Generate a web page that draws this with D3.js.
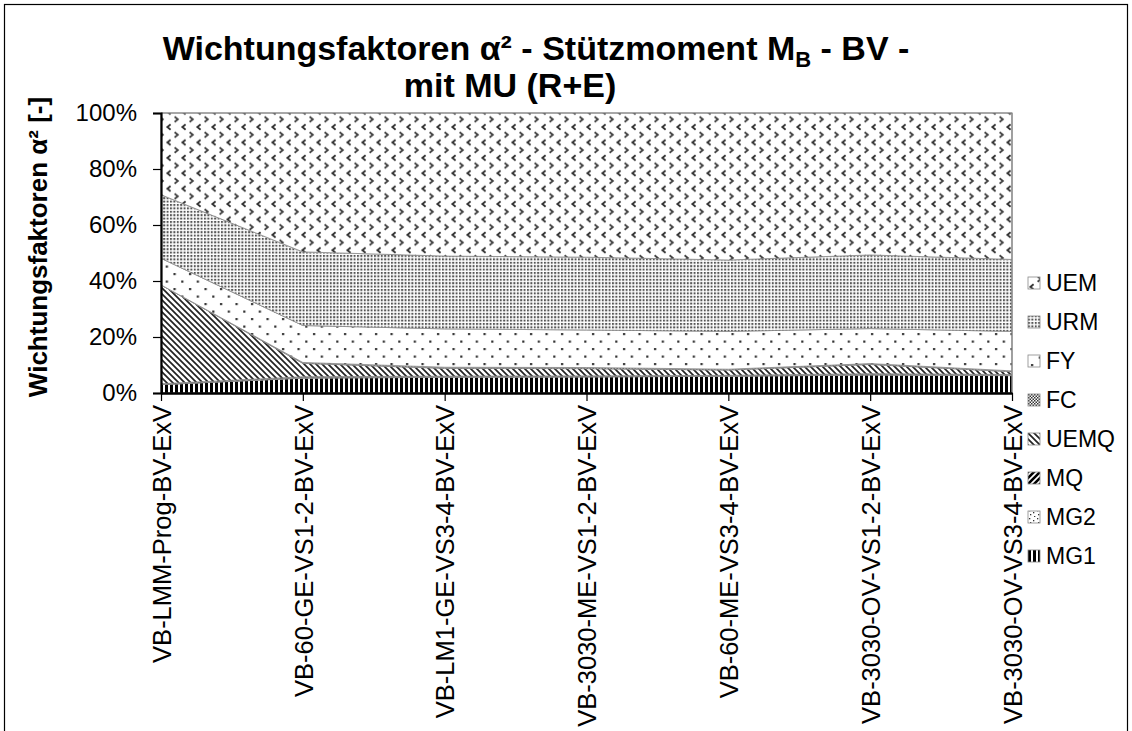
<!DOCTYPE html>
<html>
<head>
<meta charset="utf-8">
<script src="https://cdn.jsdelivr.net/npm/d3@7"></script>
<style>
  body { margin: 0; background: #fff; }
  text { font-family: Arial, "Liberation Sans", sans-serif; }
</style>
</head>
<body>
<svg id="chart" width="1132" height="731"></svg>
<script>
// categories along the x axis
const categories = [
    "VB-LMM-Prog-BV-ExV",
    "VB-60-GE-VS1-2-BV-ExV",
    "VB-LM1-GE-VS3-4-BV-ExV",
    "VB-3030-ME-VS1-2-BV-ExV",
    "VB-60-ME-VS3-4-BV-ExV",
    "VB-3030-OV-VS1-2-BV-ExV",
    "VB-3030-OV-VS3-4-BV-ExV"
];
// share of each factor in percent (stacked from bottom to top)
const MG1  = [3.0, 5.3, 5.6, 5.7, 6.0, 6.4, 6.2];
const MG2  = [0.0, 0.2, 0.2, 0.2, 0.1, 0.2, 0.2];
const MQ   = [0.3, 0.3, 0.2, 0.2, 0.2, 0.3, 0.2];
const UEMQ = [35.3, 4.8, 2.8, 2.6, 1.9, 3.3, 1.0];
const FC   = [0.0, 0.3, 0.4, 0.4, 0.3, 0.3, 0.3];
const FY   = [9.5, 13.2, 13.7, 13.4, 13.5, 12.5, 14.1];
const URM  = [22.7, 26.3, 26.0, 26.0, 25.5, 26.3, 25.7];
const UEM  = [29.2, 49.6, 51.1, 51.5, 52.5, 50.7, 52.3];

const seriesNames = ["MG1", "MG2", "MQ", "UEMQ", "FC", "FY", "URM", "UEM"];
const seriesValues = { MG1, MG2, MQ, UEMQ, FC, FY, URM, UEM };
const yTicks = [0, 0.2, 0.4, 0.6, 0.8, 1.0];

const svg = d3.select("#chart");
const defs = svg.append("defs");

// ---- fill patterns (imitating the excel pattern fills)
function pattern(id, w, h, draw) {
    const p = defs.append("pattern")
        .attr("id", id)
        .attr("patternUnits", "userSpaceOnUse")
        .attr("width", w)
        .attr("height", h);
    p.append("rect").attr("width", w).attr("height", h).attr("fill", "#fff");
    draw(p);
}
pattern("pMG1", 5, 10, p => {
    p.append("rect").attr("x", 0).attr("width", 3).attr("height", 10).attr("fill", "#000");
});
pattern("pMG2", 8, 8, p => {
    [[1, 1], [5, 3], [2, 5], [6, 7]].forEach(d => p.append("rect")
        .attr("x", d[0]).attr("y", d[1]).attr("width", 1.3).attr("height", 1.3).attr("fill", "#333"));
});
pattern("pMQ", 6, 6, p => {
    p.append("path").attr("d", "M-1,7 L7,-1 M-2,2 L2,-2 M4,8 L8,4")
        .attr("stroke", "#000").attr("stroke-width", 2.6);
});
pattern("pUEMQ", 6, 6, p => {
    p.append("path").attr("d", "M-1,-1 L7,7 M-2,4 L2,8 M4,-2 L8,2")
        .attr("stroke", "#222").attr("stroke-width", 1.7);
});
pattern("pFC", 3, 3, p => {
    p.append("rect").attr("width", 1.5).attr("height", 1.5).attr("fill", "#333");
    p.append("rect").attr("x", 1.5).attr("y", 1.5).attr("width", 1.5).attr("height", 1.5).attr("fill", "#333");
});
pattern("pFY", 15.5, 15, p => {
    p.append("rect").attr("x", 3).attr("y", 3).attr("width", 2.2).attr("height", 2.2).attr("fill", "#333");
    p.append("rect").attr("x", 10.75).attr("y", 10.5).attr("width", 2.2).attr("height", 2.2).attr("fill", "#333");
});
pattern("pURM", 3.4, 3.4, p => {
    p.append("rect").attr("width", 2).attr("height", 2).attr("fill", "#555");
});
pattern("pUEM", 15, 15.4, p => {
    p.append("path").attr("d", "M5.6,1.2 L2.4,3.8 L5.6,6.4")
        .attr("fill", "none").attr("stroke", "#333").attr("stroke-width", 1.9);
    p.append("path").attr("d", "M9.6,8.9 L12.8,11.5 L9.6,14.1")
        .attr("fill", "none").attr("stroke", "#444").attr("stroke-width", 1.9);
});

// ---- layout
const plot = { left: 161, right: 1012, top: 113, bottom: 393 };

const x = d3.scalePoint()
    .domain(categories)
    .range([plot.left, plot.right])
    .padding(0);

const y = d3.scaleLinear()
    .domain([0, 1])
    .range([plot.bottom, plot.top]);

const table = categories.map((c, i) => {
    const row = { cat: c };
    seriesNames.forEach(s => row[s] = seriesValues[s][i]);
    return row;
});

const stack = d3.stack()
    .keys(seriesNames)
    .offset(d3.stackOffsetExpand);
const stacked = stack(table);

const area = d3.area()
    .x(d => x(d.data.cat))
    .y0(d => y(d[0]))
    .y1(d => y(d[1]));

// outer frame
svg.append("rect")
    .attr("x", 4.5).attr("y", 4.5)
    .attr("width", 1123).attr("height", 760)
    .attr("fill", "none").attr("stroke", "#000").attr("stroke-width", 1.2);

// areas
svg.append("g")
    .selectAll("path")
    .data(stacked)
    .join("path")
    .attr("d", area)
    .attr("fill", d => `url(#p${d.key})`)
    .attr("stroke", "#888")
    .attr("stroke-width", 0.8);

// plot area border top/right
svg.append("path")
    .attr("d", `M${plot.left},${plot.top}H${plot.right}V${plot.bottom}`)
    .attr("fill", "none").attr("stroke", "#808080").attr("stroke-width", 1.2);

// y axis
const yAxis = svg.append("g")
    .attr("transform", `translate(${plot.left},0)`)
    .call(d3.axisLeft(y).tickValues(yTicks).tickFormat(d3.format(".0%")).tickSize(8).tickPadding(16));
yAxis.select(".domain").attr("stroke-width", 2.2);
yAxis.selectAll(".tick line").attr("stroke-width", 1.2);
yAxis.selectAll(".tick text")
    .style("font-size", "24px")
    .attr("fill", "#000");

// x axis
const xAxis = svg.append("g")
    .attr("transform", `translate(0,${plot.bottom})`)
    .call(d3.axisBottom(x).tickSize(8).tickSizeOuter(0));
xAxis.select(".domain").attr("stroke-width", 2.6);
xAxis.selectAll(".tick line").attr("stroke-width", 1.2);
xAxis.selectAll(".tick text")
    .style("font-size", "25.5px")
    .attr("fill", "#000")
    .attr("text-anchor", "end")
    .attr("transform", "rotate(-90)")
    .attr("x", -12)
    .attr("y", 0)
    .attr("dy", "0.36em");

// title
const title = svg.append("text")
    .attr("text-anchor", "middle")
    .style("font-size", "34px")
    .style("font-weight", "bold");
const t1 = title.append("tspan").attr("x", 536).attr("y", 60);
t1.append("tspan").text("Wichtungsfaktoren α² - Stützmoment M");
t1.append("tspan").text("B").style("font-size", "22px").attr("dy", 7);
t1.append("tspan").text(" - BV -").attr("dy", -7);
title.append("tspan").attr("x", 510).attr("y", 97).text("mit MU (R+E)");

// y axis title
svg.append("text")
    .attr("transform", `translate(47,${(plot.top + plot.bottom) / 2 - 6}) rotate(-90)`)
    .attr("text-anchor", "middle")
    .style("font-size", "26px")
    .style("font-weight", "bold")
    .text("Wichtungsfaktoren α² [-]");

// legend
const legendOrder = seriesNames.slice().reverse();
const legend = svg.append("g")
    .selectAll("g")
    .data(legendOrder)
    .join("g")
    .attr("transform", (d, i) => `translate(1028,${283 + i * 39})`);
legend.append("rect")
    .attr("x", 0).attr("y", -6)
    .attr("width", 12).attr("height", 12)
    .attr("fill", d => `url(#p${d})`)
    .attr("stroke", "#888").attr("stroke-width", 0.8);
legend.append("text")
    .attr("x", 18).attr("y", 0).attr("dy", "0.36em")
    .style("font-size", "23px")
    .text(d => d);
</script>
</body>
</html>
